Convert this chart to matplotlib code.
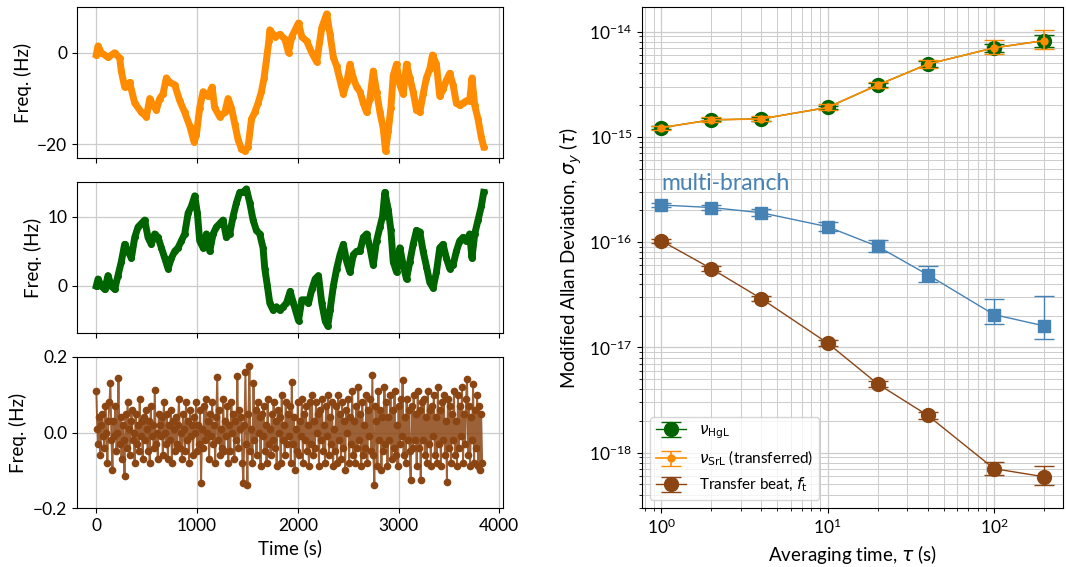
import numpy as np
import matplotlib
matplotlib.use("Agg")
import matplotlib.pyplot as plt

plt.rcParams['font.family'] = ['Lato', 'DejaVu Sans']
plt.rcParams['font.size'] = 12.5
plt.rcParams['axes.labelsize'] = 13.5

# ---- time traces ----
t_hg = [0, 17, 50, 116, 182, 232, 248, 281, 331, 381, 447, 497, 530, 563, 596,
        629, 662, 695, 728, 778, 828, 877, 927, 970, 993, 1026, 1060, 1109, 1149,
        1175, 1225, 1275, 1308, 1341, 1374, 1407, 1440, 1473, 1507, 1540, 1573,
        1606, 1639, 1665, 1689, 1712, 1722, 1772, 1821, 1871, 1908, 1940, 2007,
        2040, 2089, 2139, 2188, 2238, 2287, 2320, 2353, 2386, 2419, 2452, 2485,
        2518, 2551, 2584, 2617, 2650, 2683, 2716, 2749, 2782, 2815, 2848, 2871,
        2898, 2924, 2947, 2980, 3013, 3046, 3079, 3112, 3145, 3178, 3211, 3244,
        3277, 3310, 3337, 3376, 3409, 3442, 3475, 3508, 3541, 3574, 3607, 3640,
        3673, 3706, 3729, 3756, 3789, 3822, 3845]
f_hg = [-0.4, 1.5, 0, -1, 0, -1.2, -4, -7.5, -6.5, -11, -13, -14, -10, -11.5, -12.5,
        -10, -9, -5.5, -6.5, -7, -10.5, -13, -16, -19.5, -18, -12, -8.5, -9.5, -7.5,
        -12, -14, -13, -10, -12, -15.5, -19, -21, -21.5, -20.5, -14.5, -13,
        -11, -8.5, -5.5, -1.5, 2.5, 5, 3.5, 4, 3, 0, 3.5, 6.5,
        3.5, 2.5, 0, -2, 5.5, 8.5, 4, -1, -3, -6, -9, -6.5,
        -2.5, -5.5, -7.5, -8.5, -11, -13, -10, -4, -8.5, -13, -16.5, -21.5,
        -17, -12, -5, -2.5, -7, -9, -2.5, -5.5, -8.5, -12.5, -13, -9,
        -5.5, -3.5, -0.5, -2.5, -9.5, -8, -6, -4.5, -7, -11, -11.5, -11,
        -10.5, -10.5, -5.5, -11.5, -14.5, -18.5, -20.5]

t_sr = [0, 17, 50, 83, 116, 149, 182, 215, 248, 281, 315, 348, 381, 414, 447,
        480, 513, 546, 579, 613, 646, 679, 712, 745, 778, 811, 844, 877, 911,
        944, 977, 1003, 1026, 1060, 1093, 1126, 1159, 1192, 1225, 1258, 1291,
        1324, 1357, 1391, 1424, 1457, 1490, 1523, 1556, 1589, 1622, 1655, 1672,
        1698, 1722, 1755, 1788, 1821, 1854, 1887, 1924, 1957, 2007, 2040, 2073,
        2106, 2139, 2172, 2205, 2238, 2271, 2297, 2320, 2353, 2386, 2419, 2452,
        2485, 2518, 2551, 2584, 2617, 2650, 2683, 2716, 2749, 2782, 2815, 2841,
        2864, 2898, 2924, 2947, 2980, 3013, 3046, 3079, 3112, 3145, 3178, 3211,
        3244, 3277, 3310, 3343, 3376, 3409, 3442, 3475, 3508, 3541, 3574, 3607,
        3640, 3673, 3706, 3729, 3756, 3789, 3822, 3845]
f_sr = [0, 1, 0, -0.5, 1.5, 0, -0.5, 1.5, 3.5, 6, 5, 4, 7, 8.5, 9,
        9.5, 7, 6, 7.5, 7, 5.5, 4, 2.5, 4, 5, 5.5, 6.5, 7.5, 10.5,
        11.5, 13, 10.5, 6.5, 5.5, 7.5, 5, 7.5, 8.5, 9, 9.5, 7,
        7.5, 10, 12, 13.5, 13.5, 14, 12, 9.5, 8, 7.5, 5.5, 2.5,
        0, -2.5, -3.5, -3, -3.5, -3, -2.5, -0.8, -2.5, -5, -2, -2,
        -2.5, -0.5, 1, 1.5, -2.5, -5, -5.8, -3.5, 0, 2.5, 4.5, 6,
        3.5, 2, 4.5, 5, 5, 7, 7.5, 5.5, 3, 6.5, 8.5, 10,
        13.5, 11, 8, 3.5, 2, 5.5, 3, 1, 3.5, 6, 8, 7.8,
        5, 2.8, 0.5, -0.3, 2, 5.5, 6, 4, 2.5, 3, 5, 6.5,
        7, 6.5, 7.5, 4, 7.5, 9.5, 11.5, 13.5]

dt_beat = 10
f_beat = [0.11, 0.01, -0.03, 0.04, -0.06, 0.02, 0.05, -0.01, -0.04, 0.07, 0.00, -0.08, 0.03, 0.08, 0.13, -0.02,
          -0.10, 0.03, -0.01, 0.07, -0.05, 0.00, 0.145, -0.03, 0.04, -0.07, 0.02, -0.02, -0.115, 0.05, -0.04, 0.08,
          0.01, -0.06, 0.03, 0.06, -0.02, 0.00, -0.08, 0.05, -0.03, 0.02, -0.05, 0.09, -0.01, 0.03, -0.07, 0.04,
          -0.02, 0.06, 0.01, -0.05, 0.03, -0.08, 0.07, -0.01, 0.02, -0.04, 0.113, -0.03, 0.00, -0.07, 0.05, 0.02,
          -0.01, 0.04, -0.06, 0.08, 0.00, -0.03, 0.05, -0.07, 0.02, -0.02, 0.06, -0.08, 0.03, 0.01, -0.05, 0.04,
          -0.03, 0.02, 0.09, -0.04, 0.00, -0.07, 0.05, 0.01, -0.05, 0.08, -0.02, 0.03, -0.08, 0.06, -0.01, 0.02,
          -0.06, 0.04, 0.00, 0.08, -0.05, 0.02, -0.03, 0.06, -0.134, 0.01, -0.04, 0.07, -0.02, 0.09, 0.00, 0.03,
          -0.07, 0.05, -0.01, 0.08, -0.03, 0.02, -0.08, 0.04, 0.148, -0.02, 0.06, -0.06, 0.01, -0.04, 0.09, -0.05,
          0.03, -0.01, 0.07, -0.08, 0.02, -0.05, 0.08, 0.00, 0.05, -0.07, 0.03, -0.02, 0.15, -0.04, 0.06, 0.01,
          0.04, -0.08, -0.134, 0.02, 0.16, -0.03, -0.14, 0.05, 0.176, -0.05, 0.01, -0.08, 0.132, -0.02, 0.06, -0.06,
          0.08, 0.00, 0.04, -0.09, 0.05, -0.01, 0.07, -0.05, 0.02, -0.08, 0.09, -0.03, 0.01, -0.06, 0.05, -0.02,
          0.08, -0.04, 0.03, -0.09, 0.06, 0.00, 0.04, -0.08, 0.10, -0.02, 0.02, -0.06, 0.08, -0.03, 0.05, -0.01,
          0.07, -0.08, 0.135, -0.03, 0.04, -0.10, 0.01, -0.05, 0.08, -0.06, 0.03, -0.01, 0.09, -0.08, 0.05, -0.02,
          0.07, -0.05, 0.02, -0.09, 0.08, -0.03, 0.10, -0.06, 0.03, -0.04, 0.08, 0.00, 0.05, -0.09, 0.06, -0.02,
          0.09, -0.05, 0.02, -0.08, 0.07, -0.01, 0.10, -0.06, 0.04, -0.03, 0.08, -0.09, 0.01, -0.05, 0.07, -0.08,
          0.10, -0.02, 0.05, -0.07, 0.08, -0.04, 0.03, -0.10, 0.06, 0.00, 0.09, -0.08, 0.04, -0.03, 0.11, -0.06,
          0.03, -0.08, 0.07, -0.04, 0.12, -0.02, 0.05, -0.09, 0.08, -0.06, 0.02, -0.04, 0.10, -0.08, 0.06, -0.01,
          0.09, -0.05, 0.152, -0.06, -0.14, 0.07, 0.03, -0.09, 0.11, -0.02, 0.06, -0.10, 0.04, -0.05, 0.12, -0.03,
          0.08, -0.09, 0.04, -0.02, 0.10, -0.07, 0.06, -0.04, 0.11, -0.06, 0.02, -0.09, 0.07, -0.03, 0.09, -0.01,
          0.14, -0.06, 0.04, -0.08, 0.09, -0.02, 0.06, -0.05, -0.125, 0.07, -0.04, 0.10, -0.02, 0.05, -0.09, 0.11,
          -0.04, 0.06, -0.125, 0.08, -0.02, 0.09, -0.06, 0.04, -0.08, 0.11, -0.03, 0.06, -0.09, 0.07, -0.01, 0.10,
          -0.06, 0.04, -0.08, 0.12, -0.03, 0.06, -0.09, 0.08, -0.02, 0.10, -0.06, 0.03, -0.132, 0.09, -0.04, 0.07,
          -0.08, 0.05, -0.02, 0.11, -0.06, 0.03, -0.09, 0.10, -0.04, 0.07, -0.01, 0.12, -0.08, 0.05, -0.03, 0.09,
          0.143, -0.06, 0.07, -0.09, 0.04, -0.02, 0.128, -0.08, 0.06, -0.04, 0.10, -0.09, 0.07, -0.10, 0.05, -0.08]
t_beat = np.arange(len(f_beat)) * dt_beat

# ---- Allan deviations ----
tau = [1, 2, 4, 10, 20, 40, 100, 200]
adev_hg = [1.22e-15, 1.45e-15, 1.48e-15, 1.9e-15, 3.1e-15, 4.9e-15, 7.0e-15, 8.2e-15]
err_hg = [0.04e-15, 0.05e-15, 0.06e-15, 0.08e-15, 0.15e-15, 0.3e-15, 0.6e-15, 1.0e-15]
adev_sr = [1.22e-15, 1.45e-15, 1.48e-15, 1.9e-15, 3.1e-15, 4.9e-15, 7.0e-15, 8.2e-15]
err_sr_lo = [0.05e-15, 0.07e-15, 0.08e-15, 0.12e-15, 0.2e-15, 0.4e-15, 0.9e-15, 1.4e-15]
err_sr_hi = [0.06e-15, 0.08e-15, 0.09e-15, 0.14e-15, 0.25e-15, 0.5e-15, 1.3e-15, 2.2e-15]
adev_multi = [2.25e-16, 2.13e-16, 1.9e-16, 1.4e-16, 0.91e-16, 0.49e-16, 0.205e-16, 0.16e-16]
err_multi_lo = [0.08e-16, 0.1e-16, 0.12e-16, 0.12e-16, 0.1e-16, 0.07e-16, 0.037e-16, 0.039e-16]
err_multi_hi = [0.1e-16, 0.12e-16, 0.14e-16, 0.15e-16, 0.13e-16, 0.1e-16, 0.085e-16, 0.146e-16]
adev_beat = [1.03e-16, 5.6e-17, 2.9e-17, 1.1e-17, 4.5e-18, 2.26e-18, 7.05e-19, 5.9e-19]
err_beat_lo = [0.05e-16, 0.3e-17, 0.15e-17, 0.07e-17, 0.3e-18, 0.18e-18, 0.95e-19, 1.0e-19]
err_beat_hi = [0.05e-16, 0.3e-17, 0.15e-17, 0.07e-17, 0.3e-18, 0.18e-18, 1.05e-19, 1.5e-19]

orange = 'darkorange'
green = 'darkgreen'
brown = 'saddlebrown'
blue = 'steelblue'
gridc = '#cccccc'

fig = plt.figure(figsize=(10.66, 5.67), dpi=100)

ax1 = fig.add_axes([0.0722, 0.7213, 0.3997, 0.2664])
ax2 = fig.add_axes([0.0722, 0.4127, 0.3997, 0.2663], sharex=ax1)
ax3 = fig.add_axes([0.0722, 0.1040, 0.3997, 0.2664], sharex=ax1)

ax1.plot(t_hg, f_hg, '.-', color=orange, lw=5, ms=8)
ax2.plot(t_sr, f_sr, '.-', color=green, lw=5, ms=8)
ax3.plot(t_beat, f_beat, '-', color=brown, lw=1.4, alpha=0.85)
ax3.plot(t_beat, f_beat, 'o', color=brown, ms=4.5)

ax1.set_yticks([-20, 0])
ax2.set_yticks([0, 10])
ax3.set_ylim(-0.2, 0.2)
ax3.set_yticks([-0.2, 0.0, 0.2])
ax3.set_xticks([0, 1000, 2000, 3000, 4000])
for ax in (ax1, ax2, ax3):
    ax.set_ylabel('Freq. (Hz)')
    ax.grid(True, color=gridc, lw=0.9)
    ax.set_axisbelow(True)
for ax in (ax1, ax2):
    ax.tick_params(labelbottom=False)
ax3.set_xlabel('Time (s)')

# ---- right panel ----
ax4 = fig.add_axes([0.6023, 0.1040, 0.3950, 0.8837])
ax4.set_xscale('log')
ax4.set_yscale('log')

h_hg = ax4.errorbar(tau, adev_hg, yerr=err_hg, fmt='o-', color=green, ms=10,
                    mec=green, capsize=7, lw=1, zorder=3)
h_sr = ax4.errorbar(tau, adev_sr, yerr=[err_sr_lo, err_sr_hi], fmt='o-', color=orange,
                    ms=5, capsize=7, lw=1.2, zorder=4)
ax4.errorbar(tau, adev_multi, yerr=[err_multi_lo, err_multi_hi], fmt='s-', color=blue,
             ms=9, capsize=7, lw=1, zorder=3)
h_bt = ax4.errorbar(tau, adev_beat, yerr=[err_beat_lo, err_beat_hi], fmt='o-', color=brown,
                    ms=10, capsize=7, lw=1, zorder=3)

ax4.text(1.0, 3.6e-16, 'multi-branch', color=blue, fontsize=16.5, va='center')

ax4.set_xticks([1, 10, 100])
ax4.set_yticks([1e-18, 1e-17, 1e-16, 1e-15, 1e-14])
ax4.grid(True, which='major', color=gridc, lw=0.9)
ax4.grid(True, which='minor', color=gridc, lw=0.7)
ax4.set_axisbelow(True)
ax4.set_xlabel(r'Averaging time, $\tau$ (s)')
ax4.set_ylabel(r'Modified Allan Deviation, $\sigma_y$ ($\tau$)')
ax4.legend([h_hg, h_sr, h_bt],
           [r'$\nu_{\mathrm{HgL}}$', r'$\nu_{\mathrm{SrL}}$ (transferred)',
            r'Transfer beat, $f_{\mathrm{t}}$'],
           loc='lower left', fontsize=11)

fig.savefig('out.png', dpi=100)
